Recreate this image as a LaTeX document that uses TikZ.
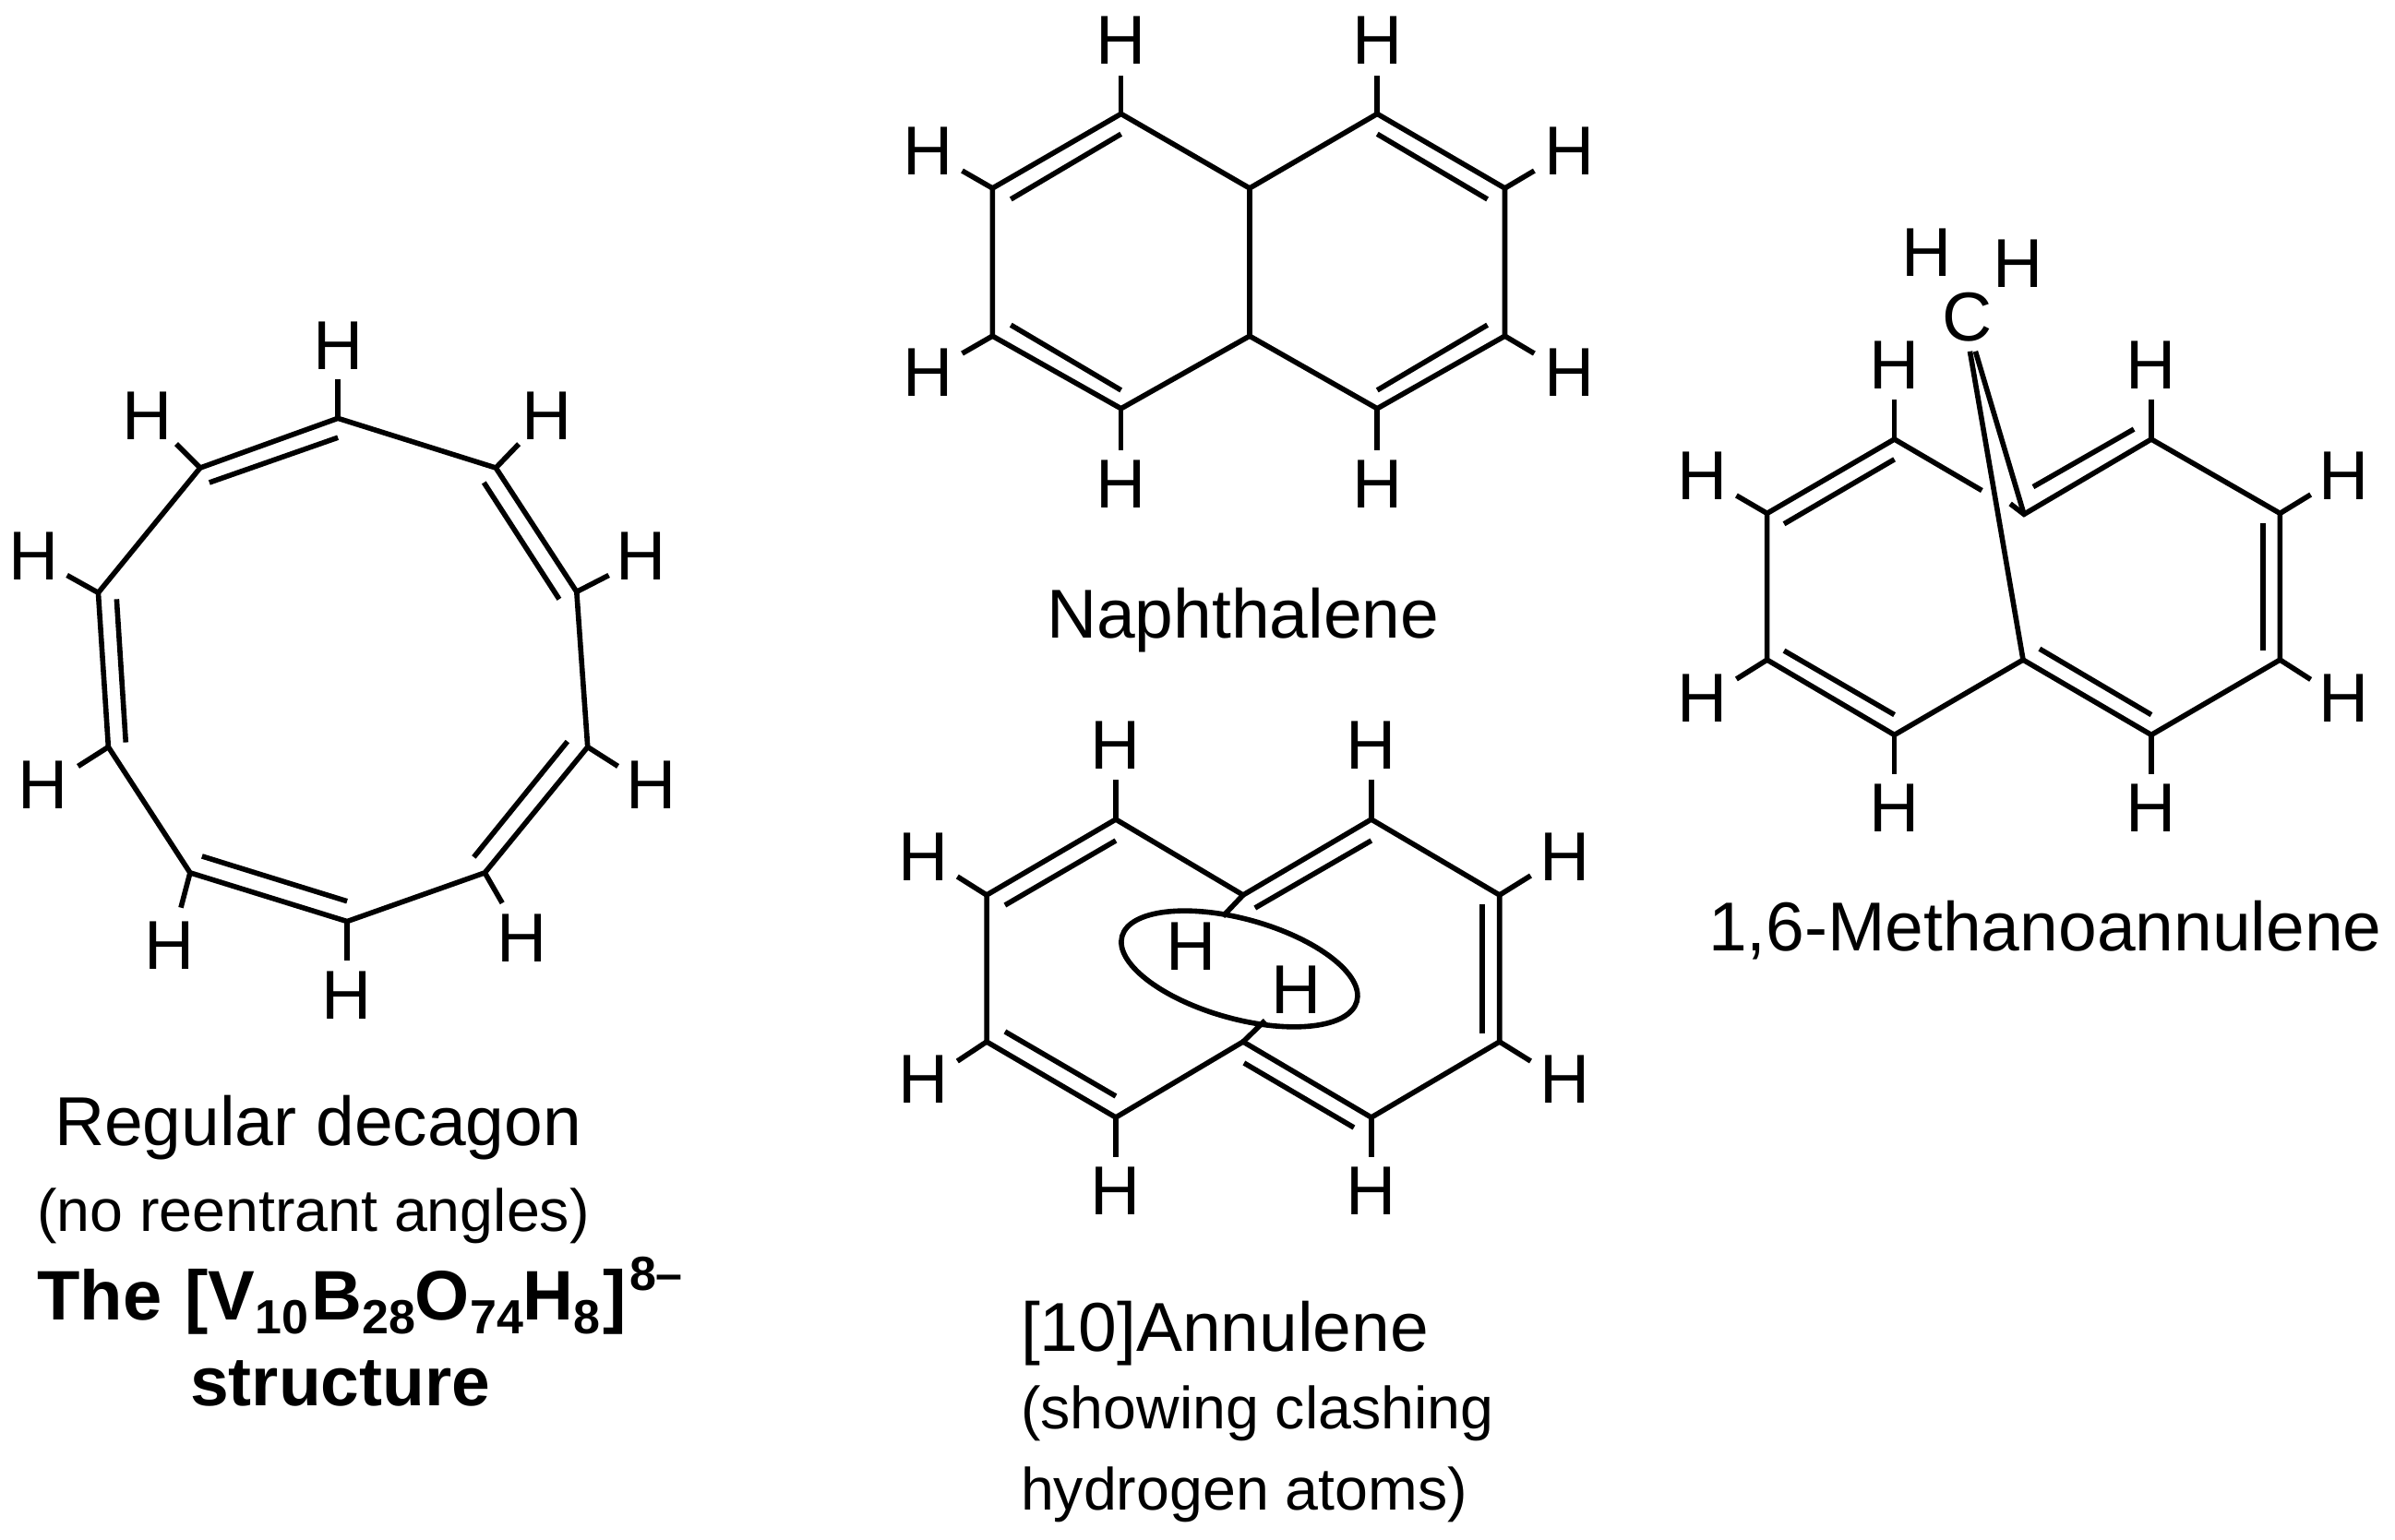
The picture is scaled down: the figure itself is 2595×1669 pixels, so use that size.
\documentclass[tikz,border=0pt]{standalone}
\usepackage{fontspec}
\setmainfont{Liberation Sans}
\usetikzlibrary{shapes.geometric}
\tikzset{
  bond/.style={line width=5.6pt,line join=miter,line cap=butt,black},
  hatom/.style={inner sep=0pt,outer sep=0pt,font=\fontsize{75}{80}\selectfont},
  title/.style={inner sep=0pt,outer sep=0pt,anchor=base west,font=\fontsize{75}{80}\selectfont},
  note/.style={inner sep=0pt,outer sep=0pt,anchor=base west,font=\fontsize{64.5}{70}\selectfont},
}
% vertex name, position
\newcommand{\vtx}[2]{\coordinate (#1) at (#2);}
% name of H, vertex, free end of the stub, position of the H
\newcommand{\hbond}[4]{\coordinate (#1s) at (#3);\node[hatom] (#1) at (#4) {H};\draw[bond] (#2) -- (#1s);}
% name, two ends of the inner line of a double bond
\newcommand{\inner}[3]{\coordinate (#1a) at (#2);\coordinate (#1b) at (#3);\draw[bond] (#1a) -- (#1b);}
\newcommand{\sbs}[1]{\raisebox{-0.21em}{\fontsize{52}{52}\selectfont #1}}
\newcommand{\sps}[1]{\raisebox{0.42em}{\fontsize{52}{52}\selectfont #1}}
\begin{document}
\begin{tikzpicture}[x=1pt,y=-1pt]
\path[use as bounding box,fill=white] (0,0) rectangle (2595,1669);

% ---------- decagon ----------
\begin{scope}[x=.9949pt,y=-.995pt,yshift=-1.6pt]
\vtx{d1}{368,454}\vtx{d2}{540,508}\vtx{d3}{628,643}\vtx{d4}{640,812}\vtx{d5}{528,949}
\vtx{d6}{378,1002}\vtx{d7}{207,949}\vtx{d8}{118,812}\vtx{d9}{107,644}\vtx{d10}{218,508}
\draw[bond] (d1)--(d2)--(d3)--(d4)--(d5)--(d6)--(d7)--(d8)--(d9)--(d10)--cycle;
\inner{di1}{228,524}{368,475}
\inner{di2}{527,524}{609,651}
\inner{di3}{618,806}{516,932}
\inner{di4}{378,980}{220,931}
\inner{di5}{137,807}{127,651}
\hbond{dh1}{d1}{368,411}{368,375}
\hbond{dh2}{d2}{565,482}{596,451}
\hbond{dh3}{d3}{663,625}{698,604}
\hbond{dh4}{d4}{673,833}{709,853}
\hbond{dh5}{d5}{547,982}{568,1020}
\hbond{dh6}{d6}{378,1045}{378,1083}
\hbond{dh7}{d7}{197,987}{185,1028}
\hbond{dh8}{d8}{85,833}{47,853}
\hbond{dh9}{d9}{73,625}{37,604}
\hbond{dh10}{d10}{192,482}{160,451}
\end{scope}

\node[title] (t1) at (59,1241) {Regular decagon};
\node[note] (t2) at (40,1334) {(no reentrant angles)};
\node[inner sep=0pt,anchor=base west,font=\bfseries\fontsize{76}{80}\selectfont] (t3) at (40,1430)
  {The\kern4pt\ [V\sbs{10}\kern3ptB\sbs{28}O\sbs{74}H\sbs{8}\kern3pt]\kern3pt\sps{8–}};
\node[inner sep=0pt,anchor=base west,font=\bfseries\fontsize{75}{80}\selectfont] (t4) at (206,1523) {structure};

% ---------- naphthalene ----------
\begin{scope}[x=.9949pt,y=-.995pt,xshift=4.85pt]
\vtx{a1}{1216,124}\vtx{a2}{1076,205}\vtx{a3}{1076,366}\vtx{a4}{1216,445}\vtx{a5}{1356,366}
\vtx{a6}{1356,205}\vtx{a7}{1495,124}\vtx{a8}{1634,205}\vtx{a9}{1634,366}\vtx{a10}{1495,445}
\draw[bond] (a1)--(a2)--(a3)--(a4)--(a5)--(a6)--cycle;
\draw[bond] (a6)--(a7)--(a8)--(a9)--(a10)--(a5)--cycle;
\inner{ai1}{1096,217}{1216,146}
\inner{ai2}{1495,146}{1615,217}
\inner{ai3}{1096,354}{1216,425}
\inner{ai4}{1615,354}{1495,425}
\hbond{ah1}{a1}{1216,82}{1216,44}
\hbond{ah2}{a7}{1495,82}{1495,44}
\hbond{ah3}{a2}{1043,186}{1006,165}
\hbond{ah4}{a8}{1666,186}{1704,165}
\hbond{ah5}{a3}{1043,385}{1006,406}
\hbond{ah6}{a9}{1666,385}{1704,406}
\hbond{ah7}{a4}{1216,490}{1216,527}
\hbond{ah8}{a10}{1495,490}{1495,527}
\end{scope}
\node[title] (t5) at (1134,691) {Naphthalene};

% ---------- [10]annulene ----------
\begin{scope}[x=.9923pt,xshift=7.3pt]
\vtx{b1}{1211,888}\vtx{b2}{1070,970}\vtx{b3}{1070,1129}\vtx{b4}{1211,1211}\vtx{b5}{1350,1129}
\vtx{b6}{1350,970}\vtx{b7}{1490,888}\vtx{b8}{1630,970}\vtx{b9}{1630,1129}\vtx{b10}{1490,1211}
\draw[bond] (b6)--(b1)--(b2)--(b3)--(b4)--(b5)--(b10)--(b9)--(b8)--(b7)--cycle;
\inner{bi1}{1090,981}{1211,911}
\inner{bi2}{1363,984}{1490,911}
\inner{bi3}{1611,980}{1611,1120}
\inner{bi4}{1471,1222}{1351,1152}
\inner{bi5}{1211,1188}{1090,1118}
\coordinate (bs1) at (1328,993);
\coordinate (bs2) at (1374,1106);
\draw[bond] (b6) -- (bs1);
\draw[bond] (b5) -- (bs2);
\hbond{bh1}{b1}{1211,845}{1211,808}
\hbond{bh2}{b7}{1490,845}{1490,808}
\hbond{bh3}{b2}{1038,950}{1001,929}
\hbond{bh4}{b8}{1664,949}{1701,929}
\hbond{bh5}{b3}{1038,1150}{1001,1170}
\hbond{bh6}{b9}{1664,1150}{1701,1170}
\hbond{bh7}{b4}{1211,1254}{1211,1291}
\hbond{bh8}{b10}{1490,1254}{1490,1291}
\node[hatom] (bh9) at (1293,1026) {H};
\node[hatom] (bh10) at (1408,1073) {H};
\node[draw,line width=5.6pt,ellipse,inner sep=0pt,outer sep=0pt,minimum width=264pt,minimum height=108pt,rotate=-15.5] (clash) at (1346,1050) {};
\end{scope}
\node[title] (t6) at (1106,1464) {[10]Annulene};
\node[note] (t7) at (1106,1548) {(showing clashing};
\node[note] (t8) at (1106,1636) {hydrogen atoms)};

% ---------- 1,6-methanoannulene ----------
\begin{scope}[x=.9924pt,y=-.992pt,xshift=13.7pt,yshift=-1.84pt]
\vtx{c1}{2054.5,478}\vtx{c2}{1915.5,559}\vtx{c3}{1915.5,719}\vtx{c4}{2054.5,801}\vtx{c5}{2195,719}
\vtx{c6}{2196,560}\vtx{c7}{2335,478}\vtx{c8}{2475.5,559}\vtx{c9}{2475.5,719}\vtx{c10}{2335,801}
\coordinate (cg1) at (2150,534);
\coordinate (cg2) at (2181,548.5);
\draw[bond] (cg1)--(c1)--(c2)--(c3)--(c4)--(c5)--(c10)--(c9)--(c8)--(c7)--(c6)--(cg2);
\inner{ci1}{1934,570.5}{2054.5,500}
\inner{ci2}{2206,530}{2316,467}
\inner{ci3}{2457,570}{2457,709}
\inner{ci4}{2335,779}{2213,707}
\inner{ci5}{2054.5,779}{1934,709}
\hbond{ch1}{c1}{2054.5,435}{2054.5,397}
\hbond{ch2}{c7}{2335,435}{2335,397}
\hbond{ch3}{c2}{1882,539.5}{1845,518}
\hbond{ch4}{c8}{2509,538.5}{2545,518}
\hbond{ch5}{c3}{1882,740}{1845,761}
\hbond{ch6}{c9}{2509,740.5}{2545,761}
\hbond{ch7}{c4}{2054.5,844}{2054.5,881}
\hbond{ch8}{c10}{2335,844}{2335,881}
\node[hatom] (ch9) at (2090,274) {H};
\node[hatom] (ch10) at (2189,286) {H};
\node[hatom] (cc) at (2134,345) {C};
\coordinate (cb1) at (2137,382);
\coordinate (cb2) at (2143,382);
\draw[bond] (cb1) -- (c5);
\draw[bond] (cb2) -- (c6);
\end{scope}
\node[title] (t9) at (1851,1030) {1,6-Methanoannulene};
\end{tikzpicture}
\end{document}
